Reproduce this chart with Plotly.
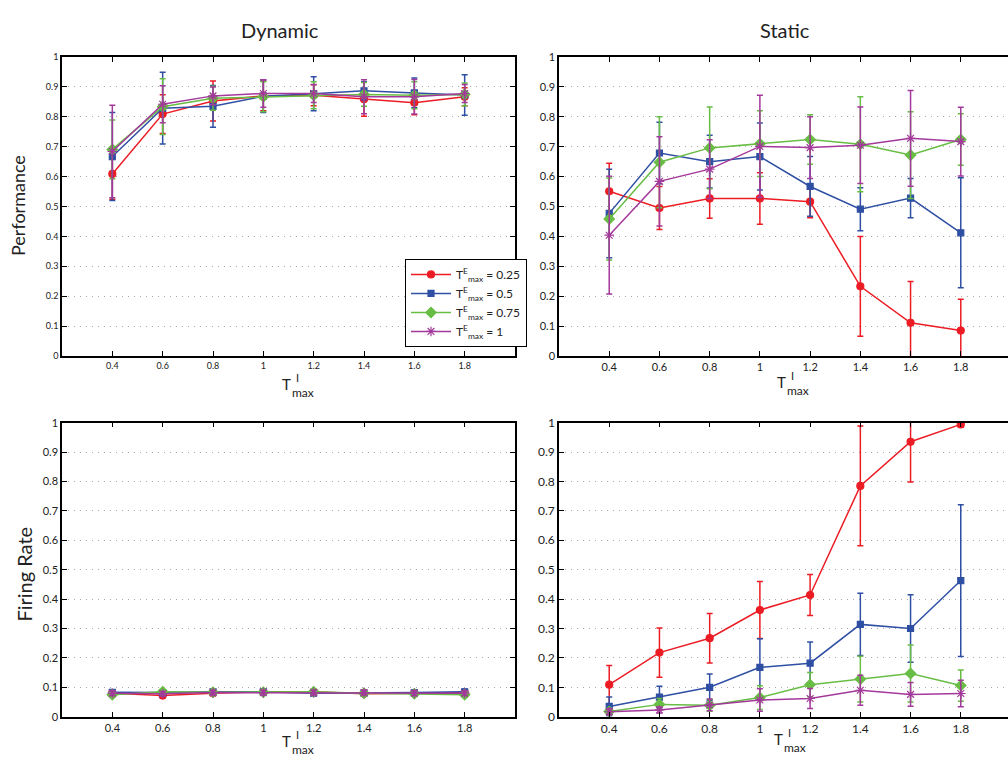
import plotly.graph_objects as go

x_vals = [0.4, 0.6, 0.8, 1.0, 1.2, 1.4, 1.6, 1.8]
x_ticks = ["0.4", "0.6", "0.8", "1", "1.2", "1.4", "1.6", "1.8"]
y_ticks = [0, 0.1, 0.2, 0.3, 0.4, 0.5, 0.6, 0.7, 0.8, 0.9, 1]
y_tick_text = ["0", "0.1", "0.2", "0.3", "0.4", "0.5", "0.6", "0.7", "0.8", "0.9", "1"]

series_names = ["0.25", "0.5", "0.75", "1"]

# Dynamic - Performance
dyn_perf_025 = [0.609, 0.809, 0.853, 0.870, 0.872, 0.859, 0.847, 0.867]
dyn_perf_050 = [0.667, 0.829, 0.835, 0.869, 0.877, 0.887, 0.880, 0.873]
dyn_perf_075 = [0.691, 0.834, 0.862, 0.867, 0.872, 0.875, 0.872, 0.875]
dyn_perf_100 = [0.684, 0.842, 0.870, 0.878, 0.878, 0.867, 0.867, 0.878]
dyn_perf_err_025 = [0.085, 0.065, 0.067, 0.050, 0.035, 0.057, 0.040, 0.030]
dyn_perf_err_050 = [0.147, 0.120, 0.070, 0.055, 0.057, 0.030, 0.050, 0.068]
dyn_perf_err_075 = [0.098, 0.093, 0.040, 0.050, 0.045, 0.040, 0.045, 0.038]
dyn_perf_err_100 = [0.155, 0.062, 0.030, 0.046, 0.030, 0.057, 0.058, 0.030]

# Static - Performance
sta_perf_025 = [0.551, 0.495, 0.527, 0.527, 0.516, 0.233, 0.111, 0.085]
sta_perf_050 = [0.477, 0.679, 0.650, 0.667, 0.567, 0.491, 0.528, 0.412]
sta_perf_075 = [0.458, 0.648, 0.696, 0.710, 0.724, 0.708, 0.672, 0.724]
sta_perf_100 = [0.404, 0.584, 0.625, 0.701, 0.697, 0.705, 0.728, 0.717]
sta_perf_err_025 = [0.094, 0.072, 0.066, 0.086, 0.054, 0.167, 0.138, 0.105]
sta_perf_err_050 = [0.148, 0.103, 0.088, 0.112, 0.100, 0.072, 0.066, 0.184]
sta_perf_err_075 = [0.137, 0.152, 0.137, 0.110, 0.083, 0.159, 0.145, 0.086]
sta_perf_err_100 = [0.197, 0.149, 0.098, 0.171, 0.103, 0.128, 0.160, 0.115]

# Dynamic - Firing rate
dyn_fr_025 = [0.080, 0.072, 0.080, 0.085, 0.085, 0.078, 0.080, 0.082]
dyn_fr_050 = [0.083, 0.082, 0.085, 0.085, 0.080, 0.080, 0.082, 0.085]
dyn_fr_075 = [0.075, 0.085, 0.083, 0.083, 0.085, 0.080, 0.078, 0.075]
dyn_fr_100 = [0.080, 0.078, 0.082, 0.082, 0.082, 0.082, 0.080, 0.080]
dyn_fr_err = [0.008, 0.008, 0.008, 0.008, 0.008, 0.008, 0.008, 0.008]

# Static - Firing rate
sta_fr_025 = [0.109, 0.218, 0.267, 0.363, 0.414, 0.785, 0.935, 0.994]
sta_fr_050 = [0.035, 0.067, 0.100, 0.168, 0.182, 0.314, 0.300, 0.463]
sta_fr_075 = [0.018, 0.042, 0.039, 0.065, 0.109, 0.128, 0.147, 0.106]
sta_fr_100 = [0.017, 0.023, 0.040, 0.057, 0.062, 0.090, 0.076, 0.079]
sta_fr_err_025 = [0.065, 0.084, 0.084, 0.097, 0.070, 0.204, 0.137, 0.010]
sta_fr_err_050 = [0.032, 0.037, 0.045, 0.097, 0.072, 0.106, 0.115, 0.258]
sta_fr_err_075 = [0.010, 0.020, 0.020, 0.040, 0.041, 0.078, 0.097, 0.053]
sta_fr_err_100 = [0.010, 0.010, 0.020, 0.038, 0.034, 0.051, 0.040, 0.045]

colors = ["#ec1c24", "#2e4fa3", "#68bd45", "#a3399b"]
symbols = ["circle", "square", "diamond", "asterisk-open"]
msizes = [7, 6, 8, 8]

panels = [
    ("x", "y", [dyn_perf_025, dyn_perf_050, dyn_perf_075, dyn_perf_100],
     [dyn_perf_err_025, dyn_perf_err_050, dyn_perf_err_075, dyn_perf_err_100], True),
    ("x2", "y2", [sta_perf_025, sta_perf_050, sta_perf_075, sta_perf_100],
     [sta_perf_err_025, sta_perf_err_050, sta_perf_err_075, sta_perf_err_100], False),
    ("x3", "y3", [dyn_fr_025, dyn_fr_050, dyn_fr_075, dyn_fr_100],
     [dyn_fr_err, dyn_fr_err, dyn_fr_err, dyn_fr_err], False),
    ("x4", "y4", [sta_fr_025, sta_fr_050, sta_fr_075, sta_fr_100],
     [sta_fr_err_025, sta_fr_err_050, sta_fr_err_075, sta_fr_err_100], False),
]

fig = go.Figure()
for xa, ya, ys, errs, show in panels:
    for i in range(4):
        fig.add_trace(go.Scatter(
            x=x_vals, y=ys[i], xaxis=xa, yaxis=ya,
            mode="lines+markers",
            name="T<sup>E</sup><sub>max</sub> = " + series_names[i],
            showlegend=show,
            line=dict(color=colors[i], width=1.5),
            marker=dict(symbol=symbols[i], size=msizes[i], color=colors[i],
                        line=dict(color=colors[i], width=1.2)),
            error_y=dict(type="data", array=errs[i], visible=True,
                         color=colors[i], thickness=1.5, width=3),
        ))

W, H = 1008, 760
def xd(a, b):
    return [a / W, b / W]
def yd(top, bottom):
    return [1 - bottom / H, 1 - top / H]

base_font = "Lato, 'Open Sans', sans-serif"

def xaxis_cfg(domain, anchor, rng, fs):
    return dict(domain=domain, anchor=anchor, range=rng,
                tickmode="array", tickvals=x_vals, ticktext=x_ticks,
                ticks="inside", ticklen=5, tickcolor="black",
                showline=True, linecolor="black", linewidth=1.5, mirror="ticks",
                showgrid=False, zeroline=False,
                tickfont=dict(size=fs, color="#222", family=base_font))

def yaxis_cfg(domain, anchor, fs, mirror):
    return dict(domain=domain, anchor=anchor, range=[0, 1],
                tickmode="array", tickvals=y_ticks, ticktext=y_tick_text,
                ticks="inside", ticklen=5, tickcolor="black",
                showline=True, linecolor="black", linewidth=1.5, mirror=mirror,
                showgrid=True, gridcolor="#a8a8a8", griddash="1px,5px", gridwidth=1,
                zeroline=False,
                tickfont=dict(size=fs, color="#222", family=base_font))

right_max = 2.0 - (1011 - 1008) / 250.7

fig.update_layout(
    width=W, height=H,
    margin=dict(l=0, r=0, t=0, b=0),
    paper_bgcolor="white", plot_bgcolor="white",
    font=dict(family=base_font, color="#222"),
    xaxis=xaxis_cfg(xd(62, 515), "y", [0.2, 2.0], 9),
    yaxis=yaxis_cfg(yd(50, 355), "x", 9, "ticks"),
    xaxis2=xaxis_cfg(xd(559, 1008), "y2", [0.2, right_max], 11),
    yaxis2=yaxis_cfg(yd(50, 355), "x2", 11, False),
    xaxis3=xaxis_cfg(xd(62, 515), "y3", [0.2, 2.0], 11),
    yaxis3=yaxis_cfg(yd(423, 723), "x3", 11, "ticks"),
    xaxis4=xaxis_cfg(xd(559, 1008), "y4", [0.2, right_max], 12),
    yaxis4=yaxis_cfg(yd(423, 723), "x4", 12, False),
    legend=dict(x=405 / W, y=1 - 256 / H, xanchor="left", yanchor="top",
                bgcolor="white", bordercolor="black", borderwidth=1,
                font=dict(size=12, family=base_font, color="#222"),
                tracegroupgap=2, itemwidth=40),
    showlegend=True,
)

ann = []
def txt(x, y, s, size, angle=0):
    ann.append(dict(x=x / W, y=1 - y / H, xref="paper", yref="paper", text=s,
                    showarrow=False, textangle=angle,
                    font=dict(size=size, family=base_font, color="#222"),
                    xanchor="center", yanchor="middle"))

txt(280, 22, "Dynamic", 20)
txt(785, 22, "Static", 20)
txt(18, 202, "Performance", 18, -90)
txt(24, 578, "Firing Rate", 20, -90)

def tlabel(cx, cy):
    txt(cx, cy, "T", 15)
    txt(cx + 11, cy - 7, "I", 11)
    txt(cx + 17, cy + 8, "max", 12)

tlabel(286, 384)
tlabel(781, 382)
tlabel(286, 748)
tlabel(778, 746)

fig.update_layout(annotations=ann)

fig.write_html("out.html")
